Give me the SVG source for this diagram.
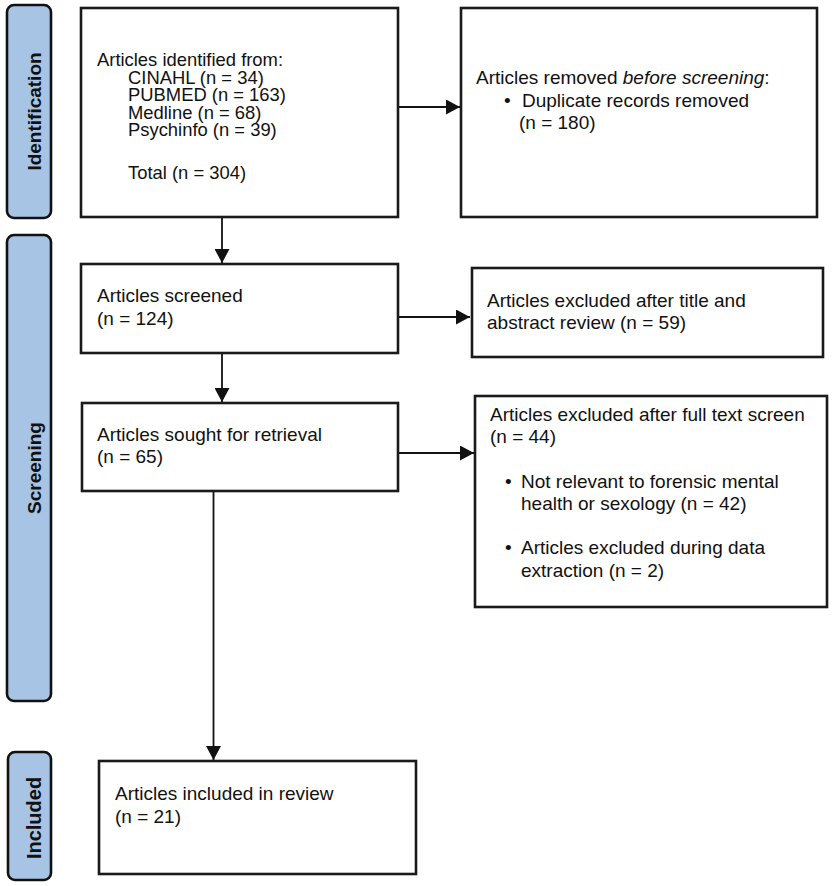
<svg xmlns="http://www.w3.org/2000/svg" width="833" height="886" viewBox="0 0 833 886">
<style>
  .box { fill: #ffffff; stroke: #1a1a1a; stroke-width: 2.6; }
  .side { fill: #a7c4e4; stroke: #111111; stroke-width: 2.6; }
  .t { font-family: "Liberation Sans", Arial, sans-serif; font-size: 19px; fill: #111111; }
  .t1 { font-size: 18.4px; }
  .s { font-family: "Liberation Sans", Arial, sans-serif; font-size: 19px; font-weight: bold; fill: #111111; text-anchor: middle; }
  .c { stroke: #111111; stroke-width: 1.8; fill: none; }
</style>
<defs>
  <marker id="ah" markerWidth="15" markerHeight="15" refX="14" refY="7.5" orient="auto" markerUnits="userSpaceOnUse">
    <path d="M0,0 L14,7.5 L0,15 Z" fill="#111111"/>
  </marker>
</defs>
<rect width="833" height="886" fill="#ffffff"/>

<g id="side-identification">
  <rect class="side" x="7" y="5" width="44" height="213" rx="7"/>
  <text class="s" transform="translate(41,111.5) rotate(-90)">Identification</text>
</g>
<g id="side-screening">
  <rect class="side" x="7" y="235" width="44" height="466" rx="7"/>
  <text class="s" transform="translate(41,468) rotate(-90)">Screening</text>
</g>
<g id="side-included">
  <rect class="side" x="8" y="752" width="43" height="128" rx="7"/>
  <text class="s" style="font-size:20px" transform="translate(41,818) rotate(-90)">Included</text>
</g>

<g id="connectors">
  <line class="c" x1="398" y1="107" x2="460" y2="107" marker-end="url(#ah)"/>
  <line class="c" x1="222" y1="217" x2="222" y2="263" marker-end="url(#ah)"/>
  <line class="c" x1="398" y1="317" x2="470" y2="317" marker-end="url(#ah)"/>
  <line class="c" x1="222" y1="353" x2="222" y2="402" marker-end="url(#ah)"/>
  <line class="c" x1="398" y1="453" x2="474" y2="453" marker-end="url(#ah)"/>
  <line class="c" x1="205" y1="489.5" x2="214" y2="489.5"/>
  <line class="c" x1="213.5" y1="491" x2="213.5" y2="760" marker-end="url(#ah)"/>
</g>

<g id="node-identified">
  <rect class="box" x="81" y="8" width="317" height="209"/>
  <text class="t t1" x="97" y="66">Articles identified from:</text>
  <text class="t t1" x="128" y="83.5">CINAHL (n = 34)</text>
  <text class="t t1" x="128" y="101">PUBMED (n = 163)</text>
  <text class="t t1" x="128" y="118.5">Medline (n = 68)</text>
  <text class="t t1" x="128" y="136">Psychinfo (n = 39)</text>
  <text class="t t1" x="128" y="179">Total (n = 304)</text>
</g>

<g id="node-removed">
  <rect class="box" x="461" y="8" width="356" height="209"/>
  <text class="t" x="476" y="83.5">Articles removed <tspan font-style="italic">before screening</tspan>:</text>
  <text class="t" x="504" y="106.5">•</text>
  <text class="t" x="522" y="106.5">Duplicate records removed</text>
  <text class="t" x="519" y="129">(n = 180)</text>
</g>

<g id="node-screened">
  <rect class="box" x="81" y="264" width="317" height="89"/>
  <text class="t" x="97" y="302">Articles screened</text>
  <text class="t" x="97" y="324.5">(n = 124)</text>
</g>

<g id="node-excluded-title">
  <rect class="box" x="472" y="268" width="351" height="89"/>
  <text class="t" x="487" y="307">Articles excluded after title and</text>
  <text class="t" x="487" y="329">abstract review (n = 59)</text>
</g>

<g id="node-sought">
  <rect class="box" x="82" y="403" width="316" height="88"/>
  <text class="t" x="97" y="441">Articles sought for retrieval</text>
  <text class="t" x="97" y="463">(n = 65)</text>
</g>

<g id="node-excluded-full">
  <rect class="box" x="475" y="396" width="352" height="211"/>
  <text class="t" x="490" y="421">Articles excluded after full text screen</text>
  <text class="t" x="490" y="443">(n = 44)</text>
  <text class="t" x="505" y="488">•</text>
  <text class="t" x="521" y="488">Not relevant to forensic mental</text>
  <text class="t" x="521" y="510">health or sexology (n = 42)</text>
  <text class="t" x="505" y="554">•</text>
  <text class="t" x="521" y="554">Articles excluded during data</text>
  <text class="t" x="521" y="577">extraction (n = 2)</text>
</g>

<g id="node-included">
  <rect class="box" x="99" y="761" width="317" height="113"/>
  <text class="t" x="115" y="800">Articles included in review</text>
  <text class="t" x="115" y="823">(n = 21)</text>
</g>
</svg>
